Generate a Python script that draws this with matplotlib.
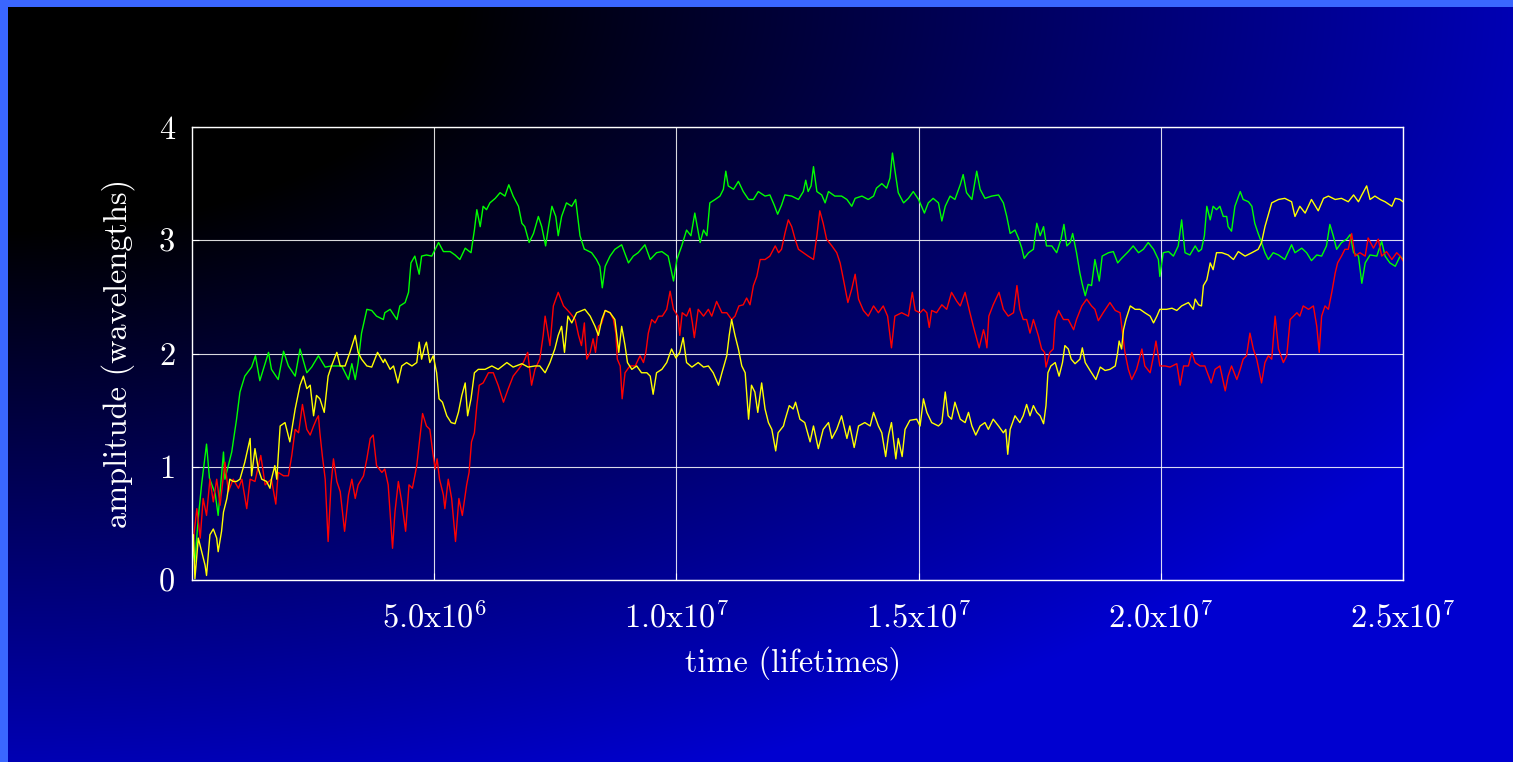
import numpy as np
import matplotlib
matplotlib.use("Agg")
import matplotlib.pyplot as plt

# time values in units of 1e6 lifetimes, amplitude in wavelengths
green_t = [0.00, 0.06, 0.13, 0.20, 0.30, 0.36, 0.48, 0.54, 0.65, 0.68, 0.82, 0.92, 0.99, 1.09, 1.23, 1.31,
           1.40, 1.58, 1.64, 1.78, 1.89, 1.99, 2.13, 2.23, 2.37, 2.47, 2.61, 2.75, 2.88, 3.09, 3.23, 3.30,
           3.37, 3.43, 3.50, 3.61, 3.71, 3.81, 3.95,
           3.98, 4.09, 4.23, 4.29, 4.40, 4.47, 4.52, 4.60, 4.69, 4.74, 4.84, 4.95, 5.09, 5.19, 5.33, 5.43,
           5.53, 5.64, 5.76, 5.83, 5.88, 5.95, 6.01, 6.08, 6.15, 6.26, 6.36, 6.46, 6.54, 6.63, 6.74, 6.81,
           6.87, 6.96, 7.05, 7.15, 7.22, 7.30, 7.36, 7.43, 7.51, 7.56, 7.63, 7.73, 7.84, 7.92, 8.01, 8.10,
           8.11, 8.25, 8.35, 8.42, 8.47, 8.53, 8.63, 8.73, 8.87, 9.01, 9.11, 9.21, 9.35, 9.46, 9.59, 9.70,
           9.83, 9.89, 9.94, 10.01, 10.11, 10.21, 10.30, 10.38, 10.49, 10.56, 10.63, 10.69, 10.80, 10.90,
           10.97, 11.02, 11.07, 11.18, 11.28, 11.38, 11.49, 11.59, 11.69, 11.83, 11.93, 12.02, 12.09, 12.17,
           12.24, 12.38, 12.52, 12.62, 12.67, 12.72, 12.78, 12.83, 12.90, 13.00, 13.07, 13.14, 13.27, 13.41,
           13.52, 13.62, 13.69, 13.83, 13.96, 14.07, 14.13, 14.24, 14.34, 14.41, 14.46, 14.51, 14.58, 14.69,
           14.79, 14.89, 15.00, 15.12, 15.20, 15.30, 15.41, 15.48, 15.55, 15.65, 15.75, 15.86, 15.92, 15.99,
           16.10, 16.20, 16.27,
           16.37, 16.51, 16.65, 16.75, 16.82, 16.89, 16.99, 17.06, 17.13, 17.18, 17.27, 17.37, 17.44, 17.51,
           17.58, 17.64, 17.75, 17.85, 17.94, 18.00, 18.06, 18.13, 18.18, 18.26, 18.33, 18.38, 18.44, 18.50,
           18.57, 18.64, 18.73, 18.79, 18.92, 19.02, 19.11, 19.19, 19.33, 19.43, 19.54, 19.64, 19.74, 19.85,
           19.95, 19.98, 20.05, 20.16, 20.26, 20.36, 20.43, 20.50, 20.60,
           20.71, 20.78, 20.84, 20.90, 20.95, 21.02, 21.08, 21.15, 21.22, 21.29, 21.36, 21.39, 21.46, 21.53,
           21.64, 21.70, 21.81, 21.88, 21.94, 22.01, 22.08, 22.15, 22.22, 22.32, 22.43, 22.56, 22.70, 22.77,
           22.91, 23.01, 23.11, 23.22, 23.32, 23.42, 23.49, 23.56, 23.63, 23.73, 23.84, 23.91, 23.98, 24.08,
           24.15, 24.22, 24.32, 24.46, 24.56, 24.63, 24.73, 24.84, 24.94, 25.00]
green_v = [0.30, 0.16, 0.55, 0.85, 1.20, 0.90, 0.76, 0.57, 1.13, 0.89, 1.13, 1.42, 1.66, 1.80, 1.88, 1.98,
           1.76, 2.01, 1.86, 1.77, 2.02, 1.89, 1.80, 2.04, 1.83, 1.88, 1.98, 1.88, 1.89, 1.89, 1.77, 1.91,
           1.77, 1.92, 2.18, 2.39, 2.38, 2.33, 2.30,
           2.36, 2.39, 2.30, 2.42, 2.45, 2.54, 2.80, 2.86, 2.70, 2.86, 2.87, 2.86, 2.98, 2.90, 2.90, 2.87,
           2.83, 2.93, 2.89, 3.09, 3.27, 3.12, 3.30, 3.27, 3.33, 3.37, 3.42, 3.39, 3.49, 3.39, 3.30, 3.15,
           3.12, 2.98, 3.06, 3.21, 3.12, 2.95, 3.12, 3.30, 3.21, 3.04, 3.21, 3.33, 3.30, 3.36, 3.04, 2.92,
           2.92, 2.89, 2.83, 2.77, 2.58, 2.77, 2.86, 2.92, 2.96, 2.80, 2.86, 2.89, 2.96, 2.83, 2.89, 2.90,
           2.86, 2.74, 2.64, 2.83, 2.95, 3.09, 3.04, 3.24, 2.98, 3.09, 3.04, 3.33, 3.36, 3.39,
           3.45, 3.61, 3.48, 3.45, 3.52, 3.43, 3.36, 3.36, 3.43, 3.39, 3.40, 3.31, 3.23, 3.31,
           3.40, 3.39, 3.36, 3.43, 3.53, 3.43, 3.48, 3.65, 3.43, 3.40, 3.33, 3.43, 3.39, 3.39,
           3.36, 3.30, 3.37, 3.39, 3.36, 3.39, 3.46, 3.50, 3.46, 3.55, 3.77, 3.62, 3.42, 3.33,
           3.37, 3.43, 3.36, 3.24, 3.33, 3.37, 3.33, 3.17, 3.30, 3.39, 3.36, 3.49, 3.58, 3.42,
           3.36, 3.61, 3.45,
           3.37, 3.39, 3.40, 3.33, 3.21, 3.06, 3.09, 3.02, 2.93, 2.84, 2.89, 2.92, 3.15, 3.04,
           3.12, 2.95, 2.95, 2.89, 3.01, 3.14, 2.95, 2.98, 3.06, 2.89, 2.71, 2.61, 2.51, 2.61,
           2.60, 2.83, 2.64, 2.86, 2.89, 2.90, 2.80, 2.84, 2.90, 2.95, 2.89, 2.92, 2.98, 2.92,
           2.83, 2.68, 2.89, 2.90, 2.86, 2.95, 3.18, 2.89, 2.87,
           2.95, 2.90, 2.92, 3.04, 3.30, 3.18, 3.30, 3.27, 3.30, 3.21, 3.21, 3.12, 3.08, 3.30,
           3.43, 3.36, 3.34, 3.30, 3.15, 3.06, 2.98, 2.89, 2.83, 2.89, 2.87, 2.83, 2.96, 2.89,
           2.93, 2.89, 2.82, 2.87, 2.86, 2.95, 3.14, 3.04, 2.92, 2.98, 3.01, 3.05, 2.89, 2.86,
           2.62, 2.80, 2.87, 2.86, 2.99, 2.86, 2.80, 2.77, 2.86, 2.83]

red_t = [0.00, 0.10, 0.17, 0.23, 0.30, 0.37, 0.44, 0.51, 0.58, 0.68, 0.75, 0.85, 0.96, 1.03, 1.13, 1.20,
         1.30, 1.42, 1.51, 1.64, 1.73, 1.78, 1.89, 1.99, 2.06, 2.13, 2.20, 2.28, 2.37, 2.44, 2.51, 2.57,
         2.61, 2.64, 2.69, 2.75, 2.81, 2.87, 2.92, 2.99, 3.06, 3.15, 3.23, 3.30, 3.37, 3.43, 3.54, 3.61,
         3.68, 3.74, 3.81, 3.92,
         3.98, 4.05, 4.14, 4.19, 4.26, 4.33, 4.41, 4.48, 4.55, 4.64, 4.71, 4.76, 4.84, 4.91, 4.97, 5.02,
         5.06, 5.11, 5.19, 5.22, 5.29, 5.36, 5.44, 5.51, 5.58, 5.67, 5.72, 5.77, 5.83, 5.88, 5.93, 6.01,
         6.12, 6.22, 6.32, 6.43, 6.53, 6.63, 6.74, 6.84, 6.93, 7.01, 7.08, 7.18, 7.25, 7.29, 7.39, 7.46,
         7.56, 7.67, 7.80, 7.91, 7.98, 8.04, 8.10,
         8.11, 8.15, 8.22, 8.28, 8.33, 8.39, 8.46, 8.53, 8.63, 8.70, 8.75, 8.78, 8.84, 8.88, 8.94, 9.04,
         9.15, 9.25, 9.32, 9.37, 9.42, 9.49, 9.56, 9.63, 9.71, 9.80, 9.87, 9.94, 10.03, 10.07, 10.12, 10.21,
         10.28, 10.33, 10.37, 10.45, 10.56, 10.66, 10.73, 10.83, 10.94, 11.04, 11.14, 11.21, 11.29, 11.38,
         11.45, 11.52, 11.59, 11.66, 11.73, 11.83, 11.93, 12.04, 12.11, 12.17,
         12.24, 12.31, 12.38, 12.45, 12.52, 12.62, 12.72, 12.83, 12.90, 12.96, 13.03, 13.10, 13.21, 13.31,
         13.38, 13.45, 13.54, 13.62, 13.69, 13.76, 13.86, 13.96, 14.07, 14.17, 14.27, 14.36, 14.44, 14.51,
         14.65, 14.79, 14.87, 14.93, 15.03, 15.10, 15.17, 15.22, 15.27, 15.37, 15.48, 15.58, 15.68, 15.79,
         15.86, 15.96, 16.06, 16.13, 16.25, 16.34,
         16.37, 16.41, 16.45, 16.54, 16.66, 16.75, 16.85, 16.96, 17.03, 17.09, 17.16, 17.23, 17.30, 17.37,
         17.47, 17.54, 17.60, 17.63, 17.71, 17.78, 17.82, 17.89, 17.99, 18.09, 18.20, 18.26, 18.37, 18.47,
         18.57, 18.64, 18.71, 18.81, 18.95, 19.06, 19.16, 19.21, 19.26, 19.33, 19.40, 19.50, 19.61, 19.67,
         19.78, 19.85, 19.90, 19.98, 20.09, 20.19, 20.33, 20.40, 20.47, 20.57, 20.64,
         20.71, 20.81, 20.91, 21.04, 21.12, 21.22, 21.33, 21.39, 21.46, 21.57, 21.64, 21.70, 21.77, 21.84,
         21.91, 21.98, 22.08, 22.15, 22.22, 22.29, 22.36, 22.43, 22.53, 22.60, 22.67, 22.74, 22.81, 22.87,
         22.94, 23.05, 23.15, 23.22, 23.27, 23.32, 23.39, 23.46, 23.53, 23.60, 23.65, 23.73, 23.80, 23.87,
         23.94, 24.01, 24.11, 24.22, 24.28, 24.39, 24.49, 24.56, 24.66, 24.77, 24.87, 24.94, 25.00]
red_v = [0.25, 0.63, 0.37, 0.72, 0.57, 0.89, 0.69, 0.89, 0.66, 1.04, 0.78, 0.89, 0.81, 0.89, 0.63, 0.89,
         0.87, 1.10, 0.84, 0.89, 0.67, 0.95, 0.92, 0.92, 1.10, 1.33, 1.30, 1.55, 1.33, 1.28, 1.36, 1.42,
         1.45, 1.30, 1.10, 0.89, 0.34, 0.84, 1.07, 0.87, 0.78, 0.43, 0.75, 0.89, 0.72, 0.84, 0.92, 1.07,
         1.25, 1.28, 1.01, 0.95,
         0.98, 0.84, 0.28, 0.60, 0.87, 0.69, 0.43, 0.84, 0.81, 1.01, 1.28, 1.47, 1.36, 1.33, 1.13, 0.98,
         1.07, 0.89, 0.75, 0.63, 0.89, 0.72, 0.34, 0.72, 0.57, 0.84, 0.95, 1.22, 1.30, 1.54, 1.72, 1.74,
         1.83, 1.83, 1.72, 1.57, 1.69, 1.80, 1.86, 1.92, 2.01, 1.72, 1.86, 1.95, 2.16, 2.33, 2.07, 2.42,
         2.54, 2.42, 2.36, 2.30, 2.16, 2.07, 2.27,
         2.18, 1.95, 2.01, 2.13, 2.01, 2.24, 2.27, 2.38, 2.36, 2.30, 2.18, 1.95, 1.89, 1.60, 1.83, 1.89,
         1.89, 1.98, 1.92, 2.01, 2.18, 2.30, 2.27, 2.33, 2.33, 2.39, 2.55, 2.39, 2.33, 2.16, 2.36, 2.33,
         2.40, 2.27, 2.14, 2.39, 2.33, 2.39, 2.33, 2.46, 2.36, 2.36, 2.30, 2.33, 2.42, 2.43,
         2.49, 2.43, 2.60, 2.68, 2.83, 2.83, 2.86, 2.95, 2.89, 2.92,
         3.06, 3.18, 3.12, 3.01, 2.92, 2.89, 2.86, 2.83, 3.04, 3.26, 3.15, 3.01, 2.95, 2.89,
         2.80, 2.65, 2.45, 2.57, 2.70, 2.48, 2.38, 2.33, 2.42, 2.36, 2.42, 2.33, 2.05, 2.33,
         2.36, 2.33, 2.54, 2.38, 2.36, 2.39, 2.36, 2.23, 2.38, 2.36, 2.43, 2.39, 2.54, 2.46,
         2.42, 2.54, 2.36, 2.24, 2.05, 2.21,
         2.16, 2.05, 2.33, 2.43, 2.54, 2.39, 2.33, 2.36, 2.60, 2.39, 2.30, 2.30, 2.18, 2.30,
         2.16, 2.04, 2.01, 1.88, 2.01, 2.04, 2.30, 2.38, 2.30, 2.30, 2.21, 2.30, 2.42, 2.48,
         2.42, 2.39, 2.29, 2.36, 2.45, 2.38, 2.36, 2.18, 2.01, 1.86, 1.77, 1.86, 2.04, 1.89,
         1.83, 1.98, 2.11, 1.89, 1.89, 1.88, 1.91, 1.72, 1.89, 1.89, 2.01,
         1.92, 1.89, 1.89, 1.74, 1.86, 1.89, 1.67, 1.80, 1.89, 1.77, 1.86, 1.95, 1.98, 2.18,
         2.04, 1.95, 1.74, 1.92, 1.98, 1.95, 2.33, 2.04, 1.92, 1.98, 2.30, 2.33, 2.36, 2.33,
         2.42, 2.39, 2.42, 2.24, 2.01, 2.33, 2.42, 2.39, 2.54, 2.71, 2.80, 2.86, 2.92, 2.92,
         3.06, 2.86, 2.89, 2.86, 3.02, 2.93, 3.01, 2.86, 2.90, 2.83, 2.89, 2.86, 2.82]

yellow_t = [0.00, 0.03, 0.06, 0.13, 0.20, 0.27, 0.30, 0.37, 0.44, 0.51, 0.54, 0.61, 0.65, 0.72, 0.78, 0.85,
            0.92, 0.99, 1.09, 1.20, 1.23, 1.30, 1.37, 1.44, 1.54, 1.61, 1.64, 1.71, 1.75, 1.82, 1.92, 2.02,
            2.13, 2.23, 2.30, 2.37, 2.44, 2.51, 2.57, 2.64, 2.73, 2.81, 2.88, 2.99, 3.06, 3.16, 3.26, 3.37,
            3.43, 3.50, 3.61, 3.71, 3.83, 3.95,
            3.98, 4.09, 4.16, 4.25, 4.33, 4.43, 4.54, 4.64, 4.69, 4.74, 4.81, 4.84, 4.91, 4.98, 5.05, 5.10,
            5.17, 5.26, 5.35, 5.43, 5.50, 5.57, 5.64, 5.69, 5.76, 5.83, 5.91, 6.05, 6.19, 6.32, 6.50, 6.63,
            6.81, 6.94, 7.08, 7.18, 7.29, 7.39, 7.49, 7.56, 7.63, 7.69, 7.76, 7.84, 7.94, 8.05,
            8.11, 8.22, 8.32, 8.39, 8.46, 8.53, 8.63, 8.73, 8.77, 8.81, 8.87, 8.94, 8.99, 9.08, 9.18, 9.28,
            9.39, 9.46, 9.52, 9.59, 9.70, 9.80, 9.90, 9.99, 10.07, 10.14, 10.21, 10.32, 10.45, 10.56, 10.66,
            10.76, 10.87, 10.94, 11.04, 11.09, 11.14, 11.21, 11.28, 11.35, 11.42, 11.49, 11.55, 11.62, 11.68,
            11.76, 11.83, 11.90, 11.97, 12.05, 12.10, 12.21,
            12.24, 12.33, 12.41, 12.46, 12.55, 12.65, 12.76, 12.83, 12.93, 13.03, 13.14, 13.21, 13.31, 13.41,
            13.52, 13.58, 13.67, 13.76, 13.89, 14.00, 14.07, 14.17, 14.24, 14.32, 14.38, 14.44, 14.53, 14.58,
            14.66, 14.72, 14.82, 14.96, 15.03, 15.10, 15.17, 15.27, 15.41, 15.48, 15.55, 15.61, 15.68, 15.75,
            15.86, 15.96, 16.03, 16.10, 16.18, 16.27,
            16.37, 16.44, 16.54, 16.65, 16.75, 16.80, 16.84, 16.89, 16.99, 17.09, 17.16, 17.23, 17.30, 17.37,
            17.44, 17.51, 17.58, 17.63, 17.67, 17.73, 17.82, 17.90, 17.97, 18.02, 18.09, 18.15, 18.23, 18.33,
            18.38, 18.44, 18.54, 18.66, 18.75, 18.85, 18.95, 19.06, 19.11, 19.14, 19.19, 19.23, 19.28, 19.37,
            19.47, 19.57, 19.67, 19.78, 19.85, 19.92, 19.98, 20.12, 20.23, 20.33, 20.43, 20.57, 20.67,
            20.71, 20.78, 20.84, 20.88, 20.95, 21.02, 21.08, 21.15, 21.26, 21.39, 21.50, 21.60, 21.74, 21.88,
            22.01, 22.08, 22.15, 22.21, 22.29, 22.43, 22.56, 22.70, 22.77, 22.87, 22.98, 23.11, 23.25, 23.36,
            23.46, 23.60, 23.73, 23.87, 23.98, 24.08, 24.15, 24.25, 24.32, 24.42, 24.53, 24.63, 24.77, 24.84,
            24.94, 25.00]
yellow_v = [0.16, 0.40, 0.01, 0.37, 0.25, 0.13, 0.04, 0.40, 0.45, 0.37, 0.25, 0.43, 0.60, 0.72, 0.89, 0.87,
            0.87, 0.89, 1.04, 1.25, 0.92, 1.16, 0.98, 0.89, 0.87, 0.81, 0.89, 1.01, 0.89, 1.36, 1.39, 1.22,
            1.51, 1.72, 1.80, 1.69, 1.72, 1.45, 1.63, 1.60, 1.48, 1.80, 1.89, 2.01, 1.89, 1.89, 2.01, 2.16,
            2.01, 1.95, 1.89, 1.88, 2.01, 1.92,
            1.95, 1.86, 1.89, 1.74, 1.89, 1.92, 1.89, 1.92, 2.10, 1.95, 2.07, 2.10, 1.92, 1.98, 1.83, 1.60,
            1.57, 1.45, 1.39, 1.38, 1.48, 1.63, 1.74, 1.45, 1.60, 1.83, 1.86, 1.86, 1.89, 1.86, 1.92, 1.88,
            1.91, 1.88, 1.89, 1.89, 1.83, 1.92, 2.04, 2.16, 2.24, 2.01, 2.33, 2.27, 2.36, 2.38,
            2.39, 2.33, 2.24, 2.16, 2.30, 2.38, 2.36, 2.30, 2.16, 2.01, 2.24, 2.07, 1.92, 1.86, 1.89, 1.83,
            1.83, 1.80, 1.64, 1.83, 1.86, 1.92, 2.04, 1.96, 2.01, 2.14, 1.92, 1.88, 1.92, 1.88, 1.89,
            1.83, 1.72, 1.83, 1.98, 2.16, 2.30, 2.16, 2.04, 1.89, 1.83, 1.42, 1.72, 1.66, 1.48,
            1.74, 1.51, 1.39, 1.33, 1.14, 1.30, 1.36,
            1.41, 1.54, 1.51, 1.57, 1.42, 1.39, 1.22, 1.36, 1.16, 1.33, 1.39, 1.25, 1.33, 1.45,
            1.25, 1.36, 1.17, 1.36, 1.39, 1.36, 1.48, 1.36, 1.30, 1.09, 1.28, 1.39, 1.07, 1.25,
            1.09, 1.33, 1.41, 1.42, 1.36, 1.60, 1.48, 1.39, 1.36, 1.39, 1.66, 1.45, 1.42, 1.57,
            1.42, 1.39, 1.48, 1.36, 1.28, 1.36,
            1.39, 1.33, 1.42, 1.36, 1.30, 1.33, 1.11, 1.33, 1.45, 1.39, 1.45, 1.55, 1.45, 1.54,
            1.48, 1.45, 1.38, 1.54, 1.83, 1.89, 1.92, 1.80, 1.92, 2.07, 2.04, 1.95, 1.91, 1.95,
            2.05, 1.92, 1.85, 1.77, 1.88, 1.85, 1.86, 1.89, 2.01, 2.11, 2.04, 2.21, 2.30, 2.42,
            2.39, 2.39, 2.36, 2.33, 2.27, 2.33, 2.39, 2.39, 2.40, 2.38, 2.42, 2.45, 2.39,
            2.48, 2.43, 2.42, 2.60, 2.65, 2.80, 2.74, 2.89, 2.89, 2.87, 2.83, 2.90, 2.86, 2.89,
            2.92, 2.98, 3.12, 3.21, 3.33, 3.36, 3.37, 3.34, 3.21, 3.30, 3.24, 3.36, 3.26, 3.37,
            3.39, 3.36, 3.37, 3.34, 3.40, 3.34, 3.40, 3.48, 3.36, 3.39, 3.36, 3.34, 3.30, 3.37,
            3.36, 3.34]

x_ticks = [5e6, 1e7, 1.5e7, 2e7, 2.5e7]
x_tick_labels = [r'$\mathrm{5.0x10}^{6}$', r'$\mathrm{1.0x10}^{7}$', r'$\mathrm{1.5x10}^{7}$',
                 r'$\mathrm{2.0x10}^{7}$', r'$\mathrm{2.5x10}^{7}$']
y_ticks = [0, 1, 2, 3, 4]

plt.rcParams['font.family'] = 'serif'
plt.rcParams['font.serif'] = ['cmr10', 'DejaVu Serif']
plt.rcParams['mathtext.fontset'] = 'cm'
plt.rcParams['axes.unicode_minus'] = False

W, H = 1513, 762
fig = plt.figure(figsize=(W / 100, H / 100), dpi=100)

# background: black in the top-left corner fading to blue, light blue frame top/left
yy, xx = np.mgrid[0:H, 0:W]
r = np.sqrt((xx / W) ** 2 + (yy / H) ** 2)
bg = np.zeros((H, W, 3))
bg[..., 2] = np.clip(257 * (r - 0.3), 0, 208) / 255
bg[:7, :, :] = (0.23, 0.40, 1.0)
bg[:, :8, :] = (0.23, 0.40, 1.0)
fig.figimage(bg, xo=0, yo=0, origin='upper', zorder=-10)

ax = fig.add_axes([192 / W, 1 - 580 / H, (1403 - 192) / W, (580 - 127) / H])
ax.patch.set_alpha(0)

ax.plot(np.array(green_t) * 1e6, green_v, color='#00ff00', lw=1.0)
ax.plot(np.array(red_t) * 1e6, red_v, color='#ff0000', lw=1.0)
ax.plot(np.array(yellow_t) * 1e6, yellow_v, color='#ffff00', lw=1.0)

ax.set_xlim(0, 2.5e7)
ax.set_ylim(0, 4)
ax.set_xticks(x_ticks)
ax.set_xticklabels(x_tick_labels)
ax.set_yticks(y_ticks)
ax.set_yticklabels([str(v) for v in y_ticks])
ax.grid(True, color='white', lw=0.8, alpha=0.85)
ax.set_axisbelow(True)
for s in ax.spines.values():
    s.set_color('white')
    s.set_linewidth(1.0)
ax.tick_params(colors='white', labelsize=23.3, direction='in', length=5, width=0.8)
ax.tick_params(axis='x', pad=15)
ax.tick_params(axis='y', pad=12)

ax.set_xlabel('time (lifetimes)', color='white', fontsize=23.3)
ax.set_ylabel('amplitude (wavelengths)', color='white', fontsize=23.3)
ax.xaxis.set_label_coords((793 - 192) / 1211, (580 - 663) / 453)
ax.xaxis.label.set_va('center')
ax.yaxis.set_label_coords((118 - 192) / 1211, (580 - 353) / 453)
ax.yaxis.label.set_va('center')

fig.savefig('out.png', dpi=100)
